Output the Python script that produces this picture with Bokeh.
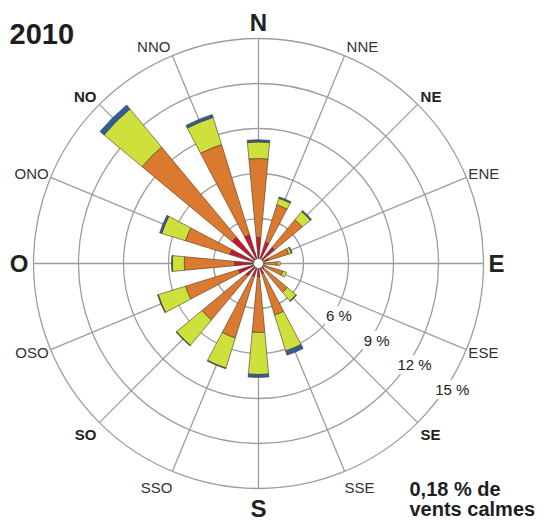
import numpy as np
from bokeh.plotting import figure
from bokeh.models import Range1d, ColumnDataSource
from bokeh.core.properties import value
from bokeh.embed import file_html
from bokeh.resources import INLINE

# ---- data -------------------------------------------------------------
directions = ["N", "NNE", "NE", "ENE", "E", "ESE", "SE", "SSE",
              "S", "SSO", "SO", "OSO", "O", "ONO", "NO", "NNO"]
bold_dirs = ["NE", "SE", "SO", "NO"]
cardinal = ["N", "E", "S", "O"]
# frequency (%) per speed class, stacked outward
class_red = [1.75, 1.5, 1.4, 0.7, 0.4, 0.4, 0.5, 0.7, 0.9, 0.9, 1.1, 1.4, 1.6, 2.0, 2.3, 2.0]
class_orange = [5.25, 2.6, 2.4, 1.4, 0.85, 1.3, 2.0, 2.9, 3.7, 4.3, 3.8, 3.7, 3.35, 3.1, 7.8, 6.3]
class_green = [1.1, 0.45, 0.7, 0.2, 0.2, 0.25, 0.75, 2.5, 2.8, 2.1, 2.2, 1.9, 0.8, 1.65, 3.3, 1.9]
class_blue = [0.15, 0.1, 0.1, 0.05, 0.0, 0.0, 0.05, 0.3, 0.2, 0.05, 0.05, 0.05, 0.05, 0.15, 0.35, 0.2]
ring_values = [3, 6, 9, 12, 15]
ring_labels = ["", "6 %", "9 %", "12 %", "15 %"]
title_text = "2010"
calm_lines = ["0,18 % de", "vents calmes"]

colors = ["#c5172f", "#db7a2f", "#cde03b", "#2d5e9e"]

# ---- figure -----------------------------------------------------------
PX = 15.0  # pixels per percent
W, H = 545, 521
cx, cy = 258, 263  # centre in canvas pixels
p = figure(width=W, height=H,
           x_range=Range1d(-cx / PX, (W - cx) / PX),
           y_range=Range1d(-(H - cy) / PX, cy / PX),
           output_backend="svg", toolbar_location=None,
           x_axis_location=None, y_axis_location=None, min_border=0)
p.grid.visible = False
p.outline_line_color = None
p.background_fill_color = "white"

n = len(directions)
compass = np.arange(n) * 360.0 / n
theta = np.deg2rad(90 - compass)
Rmax = ring_values[-1]

grid_col = "#9d9d9d"
# rings
p.circle(x=[0] * len(ring_values), y=[0] * len(ring_values), radius=ring_values,
         fill_color=None, line_color=grid_col, line_width=1.3)
# spokes
p.segment(x0=0, y0=0, x1=Rmax * np.cos(theta), y1=Rmax * np.sin(theta),
          line_color=grid_col, line_width=1.3)

# stacked wedges
half = np.deg2rad(5.25)
inner = np.zeros(n)
for vals, col in zip([class_red, class_orange, class_green, class_blue], colors):
    vals = np.array(vals)
    outer = inner + vals
    mask = vals > 0
    src = ColumnDataSource(dict(ir=inner[mask], orr=outer[mask],
                                sa=theta[mask] - half, ea=theta[mask] + half))
    p.annular_wedge(x=0, y=0, inner_radius="ir", outer_radius="orr",
                    start_angle="sa", end_angle="ea", source=src,
                    fill_color=col, line_color="#4a3826", line_width=0.6)
    inner = outer

# centre hole
p.circle(x=[0], y=[0], radius=0.33, fill_color="white", line_color="#666666", line_width=1)

# direction labels
for d, c in zip(directions, compass):
    s, co = np.sin(np.deg2rad(c)), np.cos(np.deg2rad(c))
    align = "left" if s > 0.1 else ("right" if s < -0.1 else "center")
    sx = 1 if s > 0.1 else (-1 if s < -0.1 else 0)
    if d in cardinal:
        size, style, color = "24px", "bold", "#222222"
        if co > 0.5:
            base, xo, yo = "bottom", 0, -3
        elif co < -0.5:
            base, xo, yo = "top", 0, 6
        else:
            base, xo, yo = "middle", 5 * sx, 0
    elif d in bold_dirs:
        size, style, color = "15px", "bold", "#222222"
        if co > 0:
            base, xo, yo = "bottom", 3 * sx, 1
        else:
            base, xo, yo = "top", 3 * sx, 3
    else:
        size, style, color = "15px", "normal", "#333333"
        if abs(co) < 0.5:
            base, xo, yo = "middle", 2 * sx, (-4 if co > 0 else 3)
        elif co > 0:
            base, xo, yo = "bottom", 2 * sx, -1
        else:
            base, xo, yo = "top", 0, 8
    p.text(x=[Rmax * s], y=[Rmax * co], text=[d], text_align=align, text_baseline=base,
           x_offset=xo, y_offset=yo, text_font=value("Liberation Sans"),
           text_font_size=value(size), text_font_style=style, text_color=color)

# ring labels
lab_ang = np.deg2rad(123.0)
for rv, rl in zip(ring_values, ring_labels):
    if not rl:
        continue
    r = rv + 0.4
    p.text(x=[r * np.sin(lab_ang)], y=[r * np.cos(lab_ang)], text=[rl],
           text_align="center", text_baseline="middle",
           text_font=value("Liberation Sans"), text_font_size=value("15px"),
           text_color="#222222", background_fill_color="white", padding=1)

# title and calm note
p.text(x=[(9 - cx) / PX], y=[(cy - 33) / PX], text=[title_text],
       text_align="left", text_baseline="alphabetic", text_font=value("Liberation Sans"),
       text_font_size=value("29px"), text_font_style="bold", text_color="#1e1e1e")
for i, line in enumerate(calm_lines):
    p.text(x=[(409 - cx) / PX], y=[(cy - 488 - 20 * i) / PX], text=[line],
           text_align="left", text_baseline="alphabetic", text_font=value("Liberation Sans"),
           text_font_size=value("20px"), text_font_style="bold", text_color="#1e1e1e")

open("out.html", "w").write(file_html(p, INLINE))
